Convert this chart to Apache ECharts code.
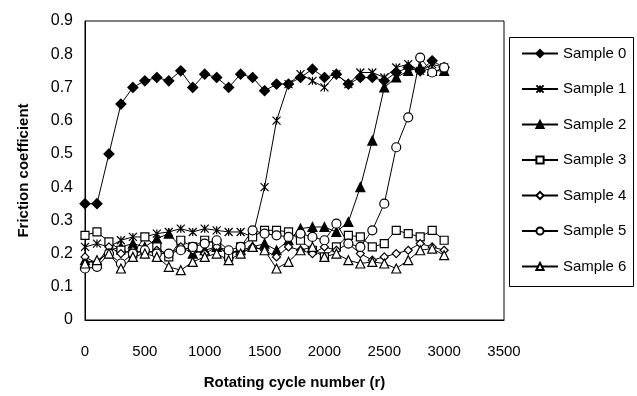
<!DOCTYPE html>
<html>
<head>
<meta charset="utf-8">
<script src="https://cdn.jsdelivr.net/npm/echarts@6/dist/echarts.min.js"></script>
<style>
html, body { margin: 0; padding: 0; background: #fff; }
#chart { width: 637px; height: 396px; }
</style>
</head>
<body>
<div id="chart"></div>
<script>
// rotating cycles, every 100 r
var cycles = [0, 100, 200, 300, 400, 500, 600, 700, 800, 900, 1000, 1100, 1200, 1300, 1400, 1500,
    1600, 1700, 1800, 1900, 2000, 2100, 2200, 2300, 2400, 2500, 2600, 2700, 2800, 2900, 3000];

var sample0 = [0.35, 0.35, 0.50, 0.65, 0.70, 0.72, 0.73, 0.72, 0.75, 0.70, 0.74, 0.73, 0.70, 0.74, 0.73, 0.69,
    0.71, 0.71, 0.73, 0.755, 0.73, 0.74, 0.71, 0.73, 0.73, 0.72, 0.745, 0.76, 0.75, 0.78, 0.76];
var sample1 = [0.22, 0.23, 0.22, 0.24, 0.25, 0.25, 0.26, 0.265, 0.275, 0.265, 0.275, 0.27, 0.265, 0.265, 0.25, 0.40,
    0.60, 0.71, 0.74, 0.72, 0.70, 0.74, 0.71, 0.745, 0.745, 0.73, 0.76, 0.77, 0.75, 0.77, 0.76];
var sample2 = [0.18, 0.17, 0.21, 0.22, 0.23, 0.22, 0.245, 0.26, 0.22, 0.20, 0.21, 0.22, 0.20, 0.21, 0.22, 0.23,
    0.21, 0.24, 0.275, 0.28, 0.28, 0.265, 0.295, 0.40, 0.54, 0.70, 0.73, 0.75, 0.76, 0.75, 0.75];
var sample3 = [0.255, 0.265, 0.235, 0.21, 0.20, 0.25, 0.22, 0.19, 0.24, 0.22, 0.24, 0.23, 0.19, 0.22, 0.25, 0.27,
    0.27, 0.265, 0.24, 0.21, 0.19, 0.22, 0.255, 0.25, 0.22, 0.23, 0.27, 0.26, 0.25, 0.27, 0.24];
var sample4 = [0.19, 0.17, 0.22, 0.20, 0.21, 0.20, 0.21, 0.20, 0.22, 0.21, 0.20, 0.22, 0.21, 0.20, 0.22, 0.21,
    0.19, 0.22, 0.21, 0.20, 0.22, 0.21, 0.23, 0.20, 0.18, 0.19, 0.20, 0.21, 0.23, 0.22, 0.21];
var sample5 = [0.155, 0.16, 0.20, 0.17, 0.20, 0.21, 0.20, 0.20, 0.21, 0.22, 0.23, 0.24, 0.21, 0.22, 0.27, 0.26,
    0.255, 0.25, 0.26, 0.25, 0.24, 0.29, 0.23, 0.22, 0.27, 0.35, 0.52, 0.61, 0.79, 0.745, 0.76];
var sample6 = [0.17, 0.18, 0.20, 0.155, 0.19, 0.20, 0.19, 0.16, 0.15, 0.175, 0.19, 0.20, 0.18, 0.20, 0.22, 0.21,
    0.155, 0.175, 0.21, 0.22, 0.19, 0.20, 0.18, 0.17, 0.175, 0.17, 0.155, 0.18, 0.21, 0.215, 0.195];

var names = ['Sample 0', 'Sample 1', 'Sample 2', 'Sample 3', 'Sample 4', 'Sample 5', 'Sample 6'];
var values = [sample0, sample1, sample2, sample3, sample4, sample5, sample6];

var star = 'path://M0,0L10,10M10,0L0,10M5,0L5,10';
var marks = [
    {symbol: 'diamond', size: 10, fill: '#000'},
    {symbol: star, size: 8, fill: '#000'},
    {symbol: 'triangle', size: 9, fill: '#000'},
    {symbol: 'rect', size: 8, fill: '#fff'},
    {symbol: 'diamond', size: 8, fill: '#fff'},
    {symbol: 'circle', size: 9, fill: '#fff'},
    {symbol: 'triangle', size: 9, fill: '#fff'}
];

var font = 'Liberation Sans, Arial, sans-serif';

var seriesData = [];
values.map(function (vals, i) {
    seriesData.push({
        name: names[i],
        type: 'line',
        symbol: marks[i].symbol,
        symbolSize: marks[i].size,
        showAllSymbol: true,
        data: cycles.map(function (c, k) { return [c, vals[k]]; }),
        lineStyle: {color: '#000', width: 1},
        itemStyle: {color: marks[i].fill, borderColor: '#000', borderWidth: 1.2},
        emphasis: {disabled: true}
    });
});

var chart = echarts.init(document.getElementById('chart'), null, {renderer: 'canvas'});
chart.setOption({
    animation: false,
    backgroundColor: '#fff',
    textStyle: {fontFamily: font, color: '#000'},
    grid: {
        left: 85,
        top: 21,
        width: 419,
        height: 299,
        show: true,
        borderColor: '#000',
        borderWidth: 1,
        backgroundColor: 'transparent'
    },
    legend: {
        data: names,
        orient: 'vertical',
        left: 521,
        top: 46,
        padding: 0,
        itemWidth: 36,
        itemHeight: 9,
        itemGap: 20.5,
        textStyle: {fontFamily: font, fontSize: 15, color: '#000', lineHeight: 14}
    },
    graphic: [{
        type: 'rect',
        shape: {x: 509.5, y: 37.5, width: 124, height: 249},
        style: {fill: 'none', stroke: '#000', lineWidth: 1},
        silent: true
    }],
    xAxis: {
        type: 'value',
        min: 0,
        max: 3500,
        interval: 500,
        name: 'Rotating cycle number (r)',
        nameLocation: 'middle',
        nameGap: 55,
        nameTextStyle: {fontFamily: font, fontSize: 15, fontWeight: 'bold', color: '#000'},
        axisLine: {show: true, lineStyle: {color: '#000', width: 1}},
        axisTick: {show: false},
        splitLine: {show: false},
        axisLabel: {fontFamily: font, fontSize: 15, color: '#000', margin: 24,
            formatter: function (v) { return String(v); }}
    },
    yAxis: {
        type: 'value',
        min: 0,
        max: 0.9,
        interval: 0.1,
        name: 'Friction coefficient',
        nameLocation: 'middle',
        nameGap: 54,
        nameTextStyle: {fontFamily: font, fontSize: 15, fontWeight: 'bold', color: '#000'},
        axisLine: {show: true, lineStyle: {color: '#000', width: 1}},
        axisTick: {show: false},
        splitLine: {show: false},
        axisLabel: {fontFamily: font, fontSize: 16, color: '#000', margin: 12,
            formatter: function (v) { return v === 0 ? '0' : v.toFixed(1); }}
    },
    series: seriesData
});
</script>
</body>
</html>
